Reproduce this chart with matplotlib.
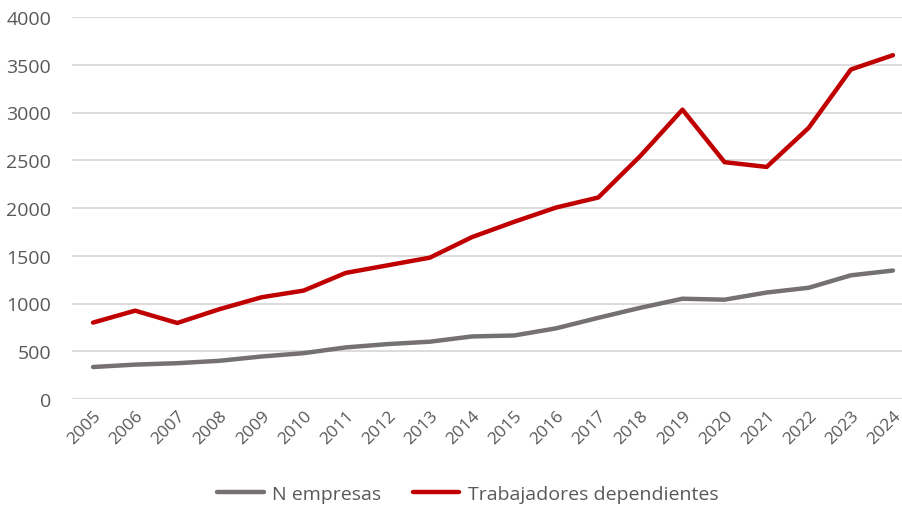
import matplotlib
matplotlib.use("Agg")
import matplotlib.pyplot as plt

years = [str(y) for y in range(2005, 2025)]
n_empresas = [335, 360, 375, 400, 445, 480, 540, 575, 600, 655,
              665, 740, 850, 955, 1050, 1040, 1115, 1165, 1295, 1345]
trabajadores = [800, 925, 796, 940, 1065, 1135, 1320, 1400, 1480, 1695,
                1855, 2005, 2110, 2545, 3030, 2480, 2430, 2840, 3450, 3600]

plt.rcParams['font.family'] = ['Open Sans', 'DejaVu Sans']
txt = '#595959'

fig = plt.figure(figsize=(9.03, 5.06), dpi=100)
ax = fig.add_axes([72 / 903, 106 / 506, 842 / 903, 382 / 506])

x = list(range(len(years)))
ax.plot(x, n_empresas, color='#767171', linewidth=3.2, label='N empresas',
        solid_capstyle='round', solid_joinstyle='round')
ax.plot(x, trabajadores, color='#C00000', linewidth=3.2, label='Trabajadores dependientes',
        solid_capstyle='round', solid_joinstyle='round')

ax.set_xlim(-0.5, len(years) - 0.5)
ax.set_ylim(0, 4000)
ax.set_yticks(range(0, 4001, 500))
ax.set_xticks(x)
ax.set_xticklabels(years, rotation=45, ha='right', rotation_mode='anchor')
ax.yaxis.grid(True, color='#d9d9d9', linewidth=1.3)
ax.set_axisbelow(True)
for s in ax.spines.values():
    s.set_visible(False)
ax.tick_params(axis='both', length=0, colors=txt)
ax.tick_params(axis='y', labelsize=14, pad=15)
ax.tick_params(axis='x', labelsize=12.5, pad=6)

fig.legend(loc='lower center', bbox_to_anchor=(0.518, -0.03), ncol=2, frameon=False,
           fontsize=14, labelcolor=txt, handlelength=2.4, handletextpad=0.45,
           columnspacing=1.6)

fig.savefig('out.png', dpi=100)
